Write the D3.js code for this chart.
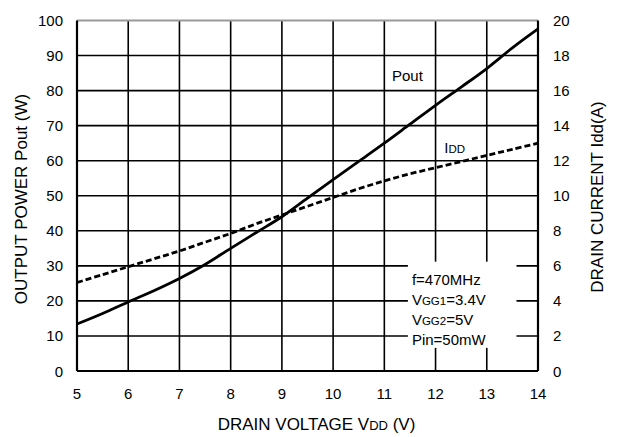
<!DOCTYPE html>
<html>
<head>
<meta charset="utf-8">
<script src="https://cdn.jsdelivr.net/npm/d3@7"></script>
<style>
  body { margin: 0; background: #fff; }
  text { font-family: "Liberation Sans", Arial, sans-serif; fill: #000; }
</style>
</head>
<body>
<div id="graphicContainer"></div>
<script>
// drain voltage (V)
var voltage = [5, 5.5, 6, 6.5, 7, 7.5, 8, 8.5, 9, 9.5, 10, 10.5, 11, 11.5, 12, 12.5, 13, 13.5, 14]
// output power (W)
var pout = [13.4, 16.4, 19.7, 22.9, 26.4, 30.4, 35.0, 39.5, 44.0, 49.3, 54.6, 59.8, 65.0, 70.4, 75.8, 81.0, 86.3, 92.2, 97.6]
// drain current (A)
var idd = [5.05, 5.5, 5.95, 6.4, 6.85, 7.35, 7.85, 8.4, 8.9, 9.4, 9.9, 10.4, 10.85, 11.25, 11.6, 11.95, 12.3, 12.65, 13.0]

var xTicks = [5, 6, 7, 8, 9, 10, 11, 12, 13, 14]
var yLeftTicks = [0, 10, 20, 30, 40, 50, 60, 70, 80, 90, 100]
var yRightTicks = [0, 2, 4, 6, 8, 10, 12, 14, 16, 18, 20]

// [text, small caps?]
var conditions = [
  [["f=470MHz", false]],
  [["V", false], ["GG1", true], ["=3.4V", false]],
  [["V", false], ["GG2", true], ["=5V", false]],
  [["Pin=50mW", false]]
]

var width = 618, height = 437
var margin = { top: 20.5, right: 80, bottom: 66, left: 77 }
var w = width - margin.left - margin.right
var h = height - margin.top - margin.bottom
var fs = 15, small = 11.5, titleFs = 17

var svg = d3.select("#graphicContainer").append("svg")
  .attr("width", width).attr("height", height)

var g = svg.append("g").attr("transform", "translate(" + margin.left + "," + margin.top + ")")

var x = d3.scaleLinear().domain([5, 14]).range([0, w])
var yL = d3.scaleLinear().domain([0, 100]).range([h, 0])
var yR = d3.scaleLinear().domain([0, 20]).range([h, 0])

// grid
g.selectAll(".vgrid").data(xTicks.slice(1, -1)).enter().append("line")
  .attr("x1", d => x(d)).attr("x2", d => x(d))
  .attr("y1", 0).attr("y2", h)
  .attr("stroke", "#000").attr("stroke-width", 1.6)

g.selectAll(".hgrid").data(yLeftTicks.slice(1, -1)).enter().append("line")
  .attr("x1", 0).attr("x2", w)
  .attr("y1", d => yL(d)).attr("y2", d => yL(d))
  .attr("stroke", "#000").attr("stroke-width", 1.6)

// top border (gray)
g.append("line").attr("x1", 0).attr("x2", w).attr("y1", 0).attr("y2", 0)
  .attr("stroke", "#999").attr("stroke-width", 2)

// lines
var lineP = d3.line().x((d, i) => x(voltage[i])).y(d => yL(d)).curve(d3.curveCatmullRom)
var lineI = d3.line().x((d, i) => x(voltage[i])).y(d => yR(d)).curve(d3.curveCatmullRom)

g.append("path").datum(pout).attr("d", lineP)
  .attr("fill", "none").attr("stroke", "#000").attr("stroke-width", 2.8)

g.append("path").datum(idd).attr("d", lineI)
  .attr("fill", "none").attr("stroke", "#000").attr("stroke-width", 2.8)
  .attr("stroke-dasharray", "6,3")

// conditions box
var boxX = x(11.46), boxY = yL(31.2)
g.append("rect").attr("x", boxX).attr("y", boxY)
  .attr("width", x(13.58) - boxX).attr("height", yL(6.6) - boxY)
  .attr("fill", "#fff")

conditions.forEach(function (parts, i) {
  var t = g.append("text").attr("x", boxX + 4).attr("y", yL(24.6) + i * 20)
    .attr("font-size", fs)
  parts.forEach(function (p) {
    t.append("tspan").attr("font-size", p[1] ? small : fs).text(p[0])
  })
})

// axes (left, right, bottom)
g.append("line").attr("x1", 0).attr("x2", 0).attr("y1", 0).attr("y2", h)
  .attr("stroke", "#000").attr("stroke-width", 2.2)
g.append("line").attr("x1", w).attr("x2", w).attr("y1", 0).attr("y2", h)
  .attr("stroke", "#000").attr("stroke-width", 2.2)
g.append("line").attr("x1", 0).attr("x2", w).attr("y1", h).attr("y2", h)
  .attr("stroke", "#000").attr("stroke-width", 2.2)

// tick labels
g.selectAll(".xl").data(xTicks).enter().append("text")
  .attr("x", d => x(d)).attr("y", h + 28)
  .attr("text-anchor", "middle").attr("font-size", fs).text(d => d)

g.selectAll(".yl").data(yLeftTicks).enter().append("text")
  .attr("x", -14).attr("y", d => yL(d) + 5.5)
  .attr("text-anchor", "end").attr("font-size", fs).text(d => d)

g.selectAll(".yr").data(yRightTicks).enter().append("text")
  .attr("x", w + 15).attr("y", d => yR(d) + 5.5)
  .attr("text-anchor", "start").attr("font-size", fs).text(d => d)

// series labels
g.append("text").attr("x", x(11.15)).attr("y", yL(82.6)).attr("font-size", fs).text("Pout")

var il = g.append("text").attr("x", x(12.17)).attr("y", yL(62.2)).attr("font-size", fs)
il.append("tspan").text("I")
il.append("tspan").attr("font-size", small).text("DD")

// axis titles
var xt = svg.append("text").attr("x", margin.left + w / 2 + 9).attr("y", 430)
  .attr("text-anchor", "middle").attr("font-size", titleFs)
xt.append("tspan").text("DRAIN VOLTAGE V")
xt.append("tspan").attr("font-size", 13).text("DD")
xt.append("tspan").text(" (V)")

var yt = svg.append("text")
  .attr("transform", "translate(27,199) rotate(-90)")
  .attr("text-anchor", "middle").attr("font-size", titleFs)
yt.append("tspan").text("OUTPUT POWER Pout (W)")

svg.append("text")
  .attr("transform", "translate(603,197) rotate(-90)")
  .attr("text-anchor", "middle").attr("font-size", titleFs)
  .text("DRAIN CURRENT Idd(A)")
</script>
</body>
</html>
